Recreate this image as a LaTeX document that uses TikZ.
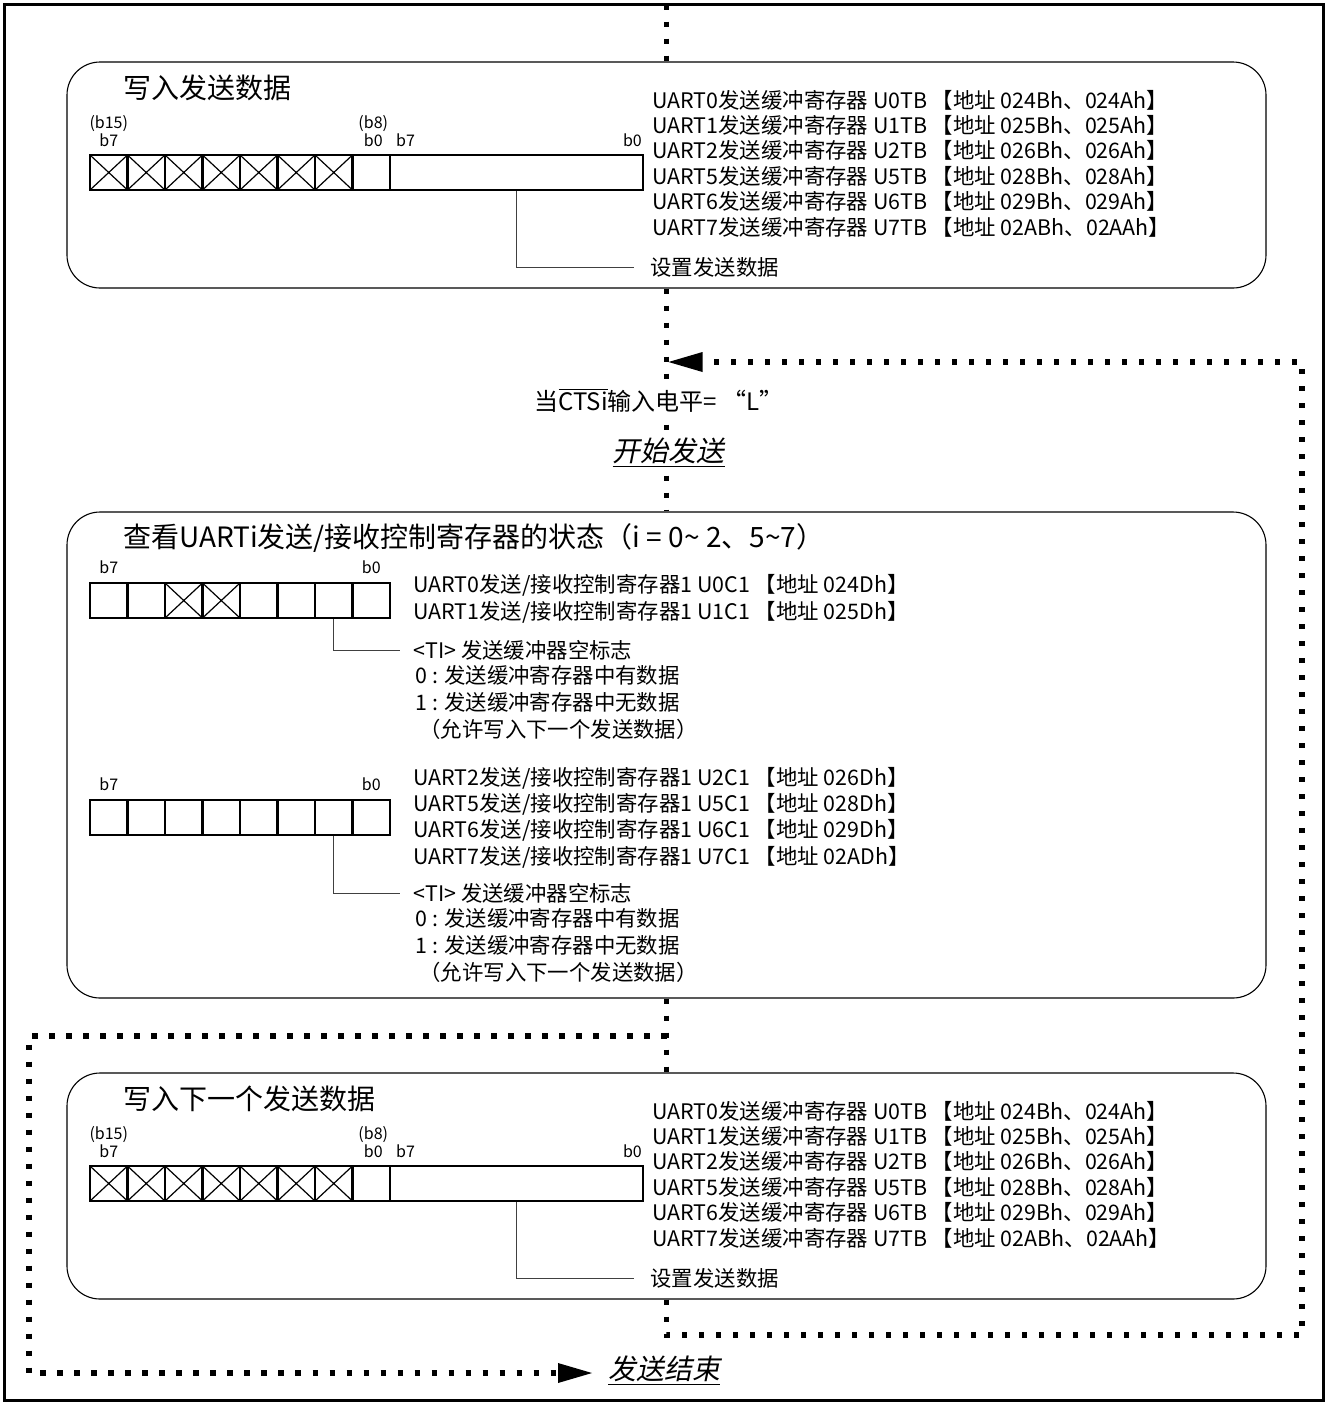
\documentclass[tikz,border=0pt]{standalone}
\usepackage{fontspec}
\setmainfont{Noto Sans CJK SC}
\newfontfamily\slantfont[FakeSlant=0.2]{Noto Sans CJK SC}
\usetikzlibrary{arrows.meta,positioning,calc}

\begin{document}
\begin{tikzpicture}[
    x=0.5pt, y=-0.5pt, inner sep=0pt,
    font=\fontsize{10.7}{12.7}\selectfont,
    frame/.style={draw, line width=1.5pt},
    panel/.style={draw, line width=0.55pt, rounded corners=16.5pt, minimum width=599.5pt, inner sep=0pt},
    cell/.style={draw, line width=1.2pt, minimum width=18.75pt, minimum height=17.5pt, inner sep=0pt},
    xcell/.style={cell, path picture={\draw[line width=0.6pt] (path picture bounding box.north west) -- (path picture bounding box.south east) (path picture bounding box.south west) -- (path picture bounding box.north east);}},
    bit/.style={font=\fontsize{8}{9}\selectfont, align=center},
    title/.style={anchor=west, font=\fontsize{14}{16}\selectfont},
    txt/.style={anchor=west, align=left},
    leader/.style={draw=black!75, line width=0.5pt},
    flow/.style={line width=2.6pt, dash pattern=on 2.6pt off 5.9pt},
    tip/.style={-{Triangle[length=17pt, width=10pt, line width=0pt]}},
    note/.style={fill=white, inner sep=1.5pt},
  ]
  \useasboundingbox (0,0) rectangle (1328,1405);
  \draw[frame] (4.5,4.5) rectangle (1323.5,1400.5);

  \foreach \oy/\k/\ttl in {0/a/写入发送数据, 1011/c/写入下一个发送数据} {
    \node[panel, minimum height=113pt] (\k-box) at (666.5,{175+\oy}) {};
    \node[title] (\k-title) at (123,{88+\oy}) {\ttl};
    \foreach \i in {0,...,6}
      \node[xcell] (\k-h\i) at ({108.75+37.5*\i},{172.5+\oy}) {};
    \node[cell] (\k-h7) at (371.25,{172.5+\oy}) {};
    \node[cell, minimum width=126.5pt] (\k-lo) at (516.5,{172.5+\oy}) {};
    \node[bit, anchor=south] (\k-b15) at ([yshift=3.5pt]\k-h0.north) {(b15)\\b7};
    \node[bit, anchor=south] (\k-b8) at ([xshift=1pt, yshift=3.5pt]\k-h7.north) {(b8)\\b0};
    \node[bit, anchor=south west] (\k-lo7) at ([xshift=3.5pt, yshift=3.5pt]\k-lo.north west) {b7};
    \node[bit, anchor=south east] (\k-lo0) at ([xshift=-1pt, yshift=3.5pt]\k-lo.north east) {b0};
    \node[txt] (\k-names) at (652,{163.5+\oy}) {UART0发送缓冲寄存器 U0TB 【地址 024Bh、024Ah】\\
      UART1发送缓冲寄存器 U1TB 【地址 025Bh、025Ah】\\
      UART2发送缓冲寄存器 U2TB 【地址 026Bh、026Ah】\\
      UART5发送缓冲寄存器 U5TB 【地址 028Bh、028Ah】\\
      UART6发送缓冲寄存器 U6TB 【地址 029Bh、029Ah】\\
      UART7发送缓冲寄存器 U7TB 【地址 02ABh、02AAh】};
    \node[txt] (\k-set) at (650,{267+\oy}) {设置发送数据};
    \draw[leader] (\k-lo.south) |- ([xshift=-8pt]\k-set.west);
  }

  \node[panel, minimum height=243pt] (b-box) at (666.5,755) {};
  \node[title] (b-title) at (123,538) {查看UARTi发送/接收控制寄存器的状态（i = 0\textasciitilde{} 2、5\textasciitilde 7）};
  \foreach \i/\s in {0/cell, 1/cell, 2/xcell, 3/xcell, 4/cell, 5/cell, 6/cell, 7/cell}
    \node[\s] (r1-\i) at ({108.75+37.5*\i},600.5) {};
  \foreach \i in {0,...,7}
    \node[cell] (r2-\i) at ({108.75+37.5*\i},817.5) {};
  \foreach \r in {1,2} {
    \node[bit, anchor=south] (r\r-b7) at ([yshift=4pt]r\r-0.north) {b7};
    \node[bit, anchor=south] (r\r-b0) at ([yshift=4pt]r\r-7.north) {b0};
  }
  \node[txt, font=\fontsize{10.7}{13.4}\selectfont] (r1-names) at (413,598.5) {UART0发送/接收控制寄存器1 U0C1 【地址 024Dh】\\
    UART1发送/接收控制寄存器1 U1C1 【地址 025Dh】};
  \node[txt, font=\fontsize{10.7}{13.2}\selectfont] (r2-names) at (413,817.5) {UART2发送/接收控制寄存器1 U2C1 【地址 026Dh】\\
    UART5发送/接收控制寄存器1 U5C1 【地址 028Dh】\\
    UART6发送/接收控制寄存器1 U6C1 【地址 029Dh】\\
    UART7发送/接收控制寄存器1 U7C1 【地址 02ADh】};
  \foreach \r/\ty in {1/650, 2/893} {
    \node[txt] (r\r-ti) at (413,\ty) {<TI> 发送缓冲器空标志};
    \node[txt, font=\fontsize{10.7}{13.3}\selectfont, below right=2.5pt and 1pt of r\r-ti.south west] (r\r-val) {0 : 发送缓冲寄存器中有数据\\
      1 : 发送缓冲寄存器中无数据\\
      \hspace{2pt}（允许写入下一个发送数据）};
    \draw[leader] (r\r-6.south) |- ([xshift=-6.5pt]r\r-ti.west);
  }

  \coordinate (top) at (666.5,4.5);
  \coordinate (rt) at (1302,362);
  \coordinate (rb) at (1302,1335);
  \coordinate (lt) at (29,1036);
  \coordinate (lb) at (29,1373);
  \draw[flow] (top) -- (a-box.north);
  \draw[flow] (a-box.south) -- (b-box.north);
  \draw[flow] (b-box.south) -- (c-box.north);
  \draw[flow, tip] (c-box.south) |- (rb) -- (rt) -- ([xshift=1pt]a-box.south |- rt);

  \node[note, font=\fontsize{12}{14}\selectfont] (cts) at (659,400) {当$\overline{\mbox{CTSi}}$输入电平= “L”};
  \node[note, font=\fontsize{14}{16}\selectfont] (go) at (668.5,453) {\slantfont\underline{开始发送}};
  \node[anchor=west, font=\fontsize{14}{16}\selectfont] (done) at (608,1371) {\slantfont\underline{发送结束}};
  \draw[flow, tip] (b-box.south |- lt) -- (lt) -- (lb) -- ([xshift=-8pt]done.west |- lb);
\end{tikzpicture}
\end{document}
